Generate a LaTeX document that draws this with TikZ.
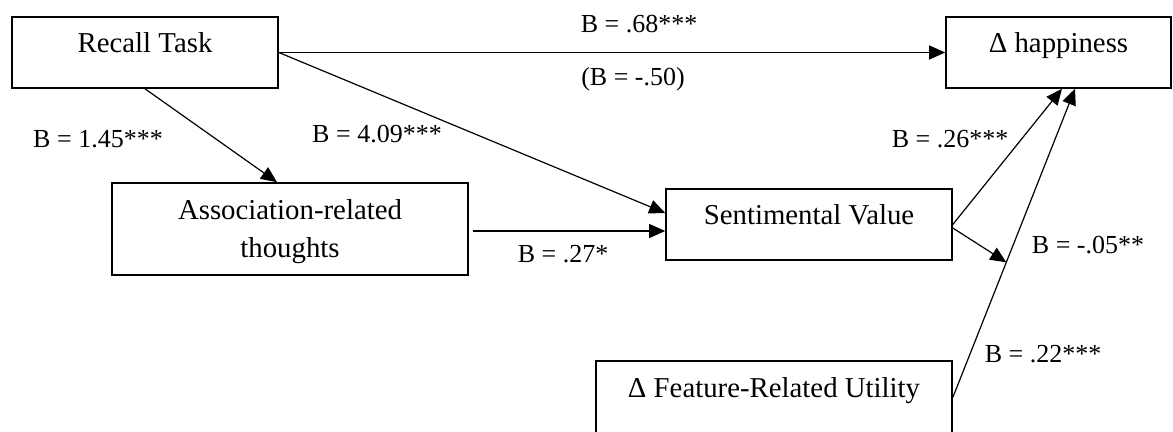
\documentclass[tikz,border=0pt]{standalone}
\usepackage{fontspec}
\setmainfont{Liberation Serif}
\usepackage{tikz}
\usetikzlibrary{arrows.meta,calc,positioning}
\tikzset{%
  >={Triangle[length=8pt,width=7pt]},
  box/.style={draw,rectangle,line width=.8pt,inner sep=0pt,align=center,fill=white,font=\fontsize{14.4}{19}\selectfont},
  oneline/.style={text height=10pt,text depth=10pt},
  coef/.style={anchor=base,inner sep=0pt,font=\fontsize{13}{15}\selectfont}
}

\begin{document}
\begin{tikzpicture}[x=.5pt,y=-.5pt]
	\clip (0,0) rectangle (1173,432);
	\begin{scope}[every node/.style={box}]
	\node[oneline,minimum width=133pt,minimum height=35.5pt] at (145,52.5) (recall task) {Recall Task};
	\node[text height=32pt,minimum width=178pt,minimum height=46pt] at (290,229) (assoc thoughts) {Association-related\\thoughts};
	\node[oneline,minimum width=143pt,minimum height=35.5pt] at (809,224.5) (sent value) {Sentimental Value};
	\node[oneline,minimum width=112.5pt,minimum height=35.5pt] at (1058.5,52.5) (delta happy) {Δ happiness};
	\node[oneline,minimum width=178pt,minimum height=36.5pt] at (774,397.5) (feature utility) {Δ Feature-Related Utility};
	\end{scope}
	
	\coordinate (happy in) at ([xshift=8.25pt] delta happy.south);
	\coordinate (joint) at ($(feature utility.east)!.438!(happy in)$);
	
	\begin{scope}[->,line width=.6pt]
	\draw (recall task.east) -- (delta happy.west);
	\draw (recall task.east) -- ([yshift=5.75pt] sent value.west);
	\draw (recall task.south) -- ([xshift=-6.5pt] assoc thoughts.north);
	\draw ([xshift=2pt,yshift=-1pt] assoc thoughts.east) -- ([yshift=-1pt] assoc thoughts.east -| sent value.west);
	\draw (sent value.east) -- ([xshift=1.75pt] delta happy.south);
	\draw ([yshift=-1.75pt] sent value.east) -- (joint);
	\draw (feature utility.east) -- (happy in);
	\end{scope}
	
	\begin{scope}[every node/.style={coef}]
	\node at (639,33) (b direct) {B = .68***};
	\node at (633,86) (b direct c) {(B = -.50)};
	\node at (377,143) (b recall sent) {B = 4.09***};
	\node at (98,148) (b recall assoc) {B = 1.45***};
	\node at (563,263) (b assoc sent) {B = .27*};
	\node at (950,148) (b sent happy) {B = .26***};
	\node at (1088,254) (b moderation) {B = -.05**};
	\node at (1043,363) (b feature) {B = .22***};
	\end{scope}
\end{tikzpicture}
\end{document}
